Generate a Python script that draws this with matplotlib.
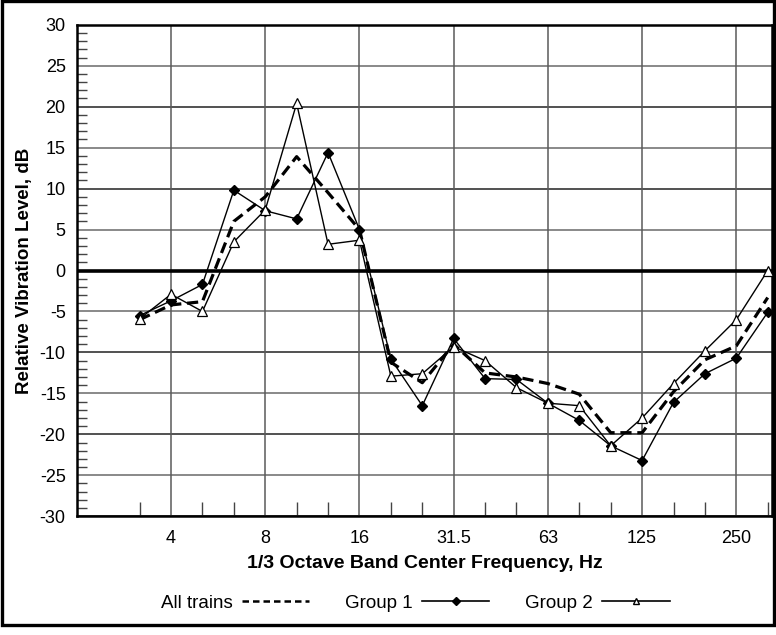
import numpy as np
import matplotlib
matplotlib.use("Agg")
import matplotlib.pyplot as plt
from matplotlib.lines import Line2D
from matplotlib.patches import Rectangle

plt.rcParams['font.family'] = ['Liberation Sans', 'DejaVu Sans']
plt.rcParams['axes.unicode_minus'] = False

# 1/3 octave bands, Hz
bands = ["3.15", "4", "5", "6.3", "8", "10", "12.5", "16", "20", "25", "31.5",
         "40", "50", "63", "80", "100", "125", "160", "200", "250", "315"]
octave_labels = ["4", "8", "16", "31.5", "63", "125", "250"]

all_trains = [-6.0, -4.2, -3.8, 6.0, 9.0, 13.9, 9.5, 5.0, -11.2, -13.7, -9.0,
              -12.5, -13.0, -13.8, -15.1, -19.8, -19.8, -14.8, -10.9, -9.2, -3.3]
group1 = [-5.5, -3.7, -1.7, 9.8, 7.3, 6.3, 14.4, 5.0, -10.8, -16.5, -8.3,
          -13.2, -13.3, -16.2, -18.3, -21.4, -23.2, -16.1, -12.6, -10.7, -5.1]
group2 = [-5.9, -2.9, -5.0, 3.5, 7.4, 20.4, 3.2, 3.7, -12.9, -12.6, -9.3,
          -11.0, -14.3, -16.2, -16.5, -21.4, -18.0, -13.8, -9.8, -6.0, 0.0]

x = np.arange(len(bands))
major_idx = [bands.index(b) for b in octave_labels]
minor_idx = [i for i in x if i not in major_idx]

fig = plt.figure(figsize=(7.76, 6.35), dpi=100)
ax = fig.add_axes([0.099, 0.187, 0.896, 0.774])

# grid
for v in range(-30, 31, 5):
    if v == 0:
        continue
    ax.axhline(v, color='#222222' if v % 10 == 0 else '#6a6a6a', lw=1.1, zorder=1)
for i in major_idx:
    ax.axvline(i, color='#5a5a5a', lw=1.1, zorder=1)
ax.axhline(0, color='black', lw=2.6, zorder=2)

ax.plot(x, all_trains, color='black', lw=2.3, dashes=(3.5, 1.8), zorder=3)
ax.plot(x, group1, color='black', lw=1.0, marker='D', ms=5, mfc='black', zorder=4)
ax.plot(x, group2, color='black', lw=1.0, marker='^', ms=7, mfc='white', mew=0.9, zorder=4)

ax.set_xlim(-2.0, 20.14)
ax.set_ylim(-30, 30)
ax.set_xticks(major_idx)
ax.set_xticklabels(octave_labels)
ax.set_xticks(minor_idx, minor=True)
ax.set_yticks(np.arange(-30, 31, 5))
ax.set_yticks(np.arange(-30, 31, 1), minor=True)
ax.tick_params(axis='both', which='major', length=0, labelsize=13)
ax.tick_params(axis='x', which='major', pad=10)
ax.tick_params(axis='y', which='major', pad=8)
ax.tick_params(axis='x', which='minor', direction='in', length=10, width=1, color='#444444')
ax.tick_params(axis='y', which='minor', direction='in', length=7, width=1, color='#444444')
for s in ax.spines.values():
    s.set_linewidth(1.8)

ax.set_xlabel("1/3 Octave Band Center Frequency, Hz", fontsize=14, fontweight='bold', labelpad=6)
ax.set_ylabel("Relative Vibration Level, dB", fontsize=13.5, fontweight='bold', labelpad=5)

handles = [
    Line2D([], [], color='black', lw=1.8, dashes=(2.6, 1.6)),
    Line2D([], [], color='black', lw=1.2, marker='D', ms=4, mfc='black'),
    Line2D([], [], color='black', lw=1.2, marker='^', ms=5, mfc='white'),
]
fig.legend(handles, ["All trains", "Group 1", "Group 2"], loc='center',
           bbox_to_anchor=(0.535, 0.05), ncol=3, frameon=False, markerfirst=False,
           fontsize=13.5, handlelength=3.6, columnspacing=1.9, handletextpad=0.5)

fig.patches.append(Rectangle((0.002, 0.016), 0.996, 0.982, transform=fig.transFigure,
                             fill=False, edgecolor='black', lw=2.4))

fig.savefig("out.png", dpi=100)
